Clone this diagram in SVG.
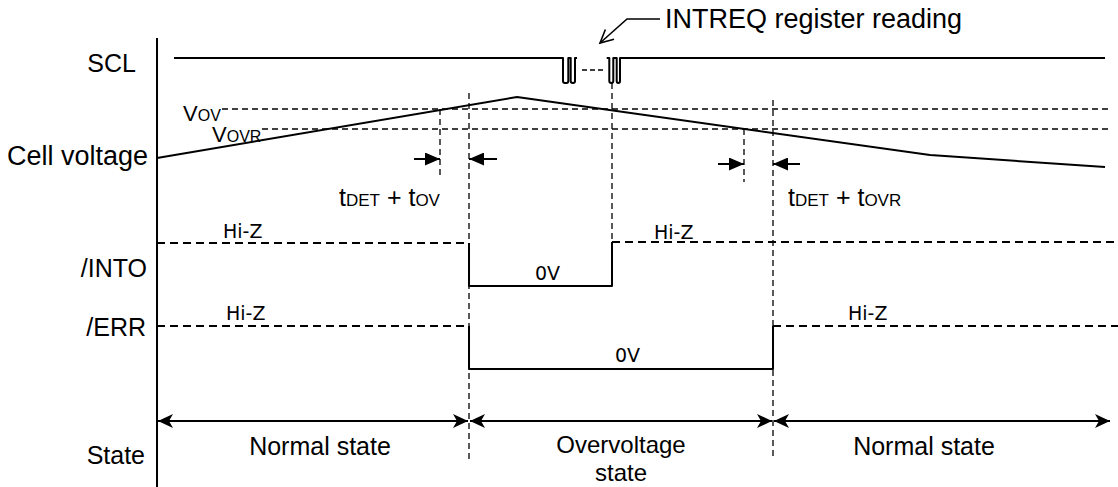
<svg xmlns="http://www.w3.org/2000/svg" width="1118" height="487" viewBox="0 0 1118 487">
<style>
.lbl{font-family:"Liberation Sans",Arial,sans-serif;font-size:25px;fill:#000}
.big{font-size:27px}
.sub{font-size:17px}
.small{font-family:"DejaVu Sans",Verdana,sans-serif;font-size:19px;fill:#000}
.sig{fill:none;stroke:#000;stroke-width:2;stroke-linejoin:round}
.hiz{fill:none;stroke:#000;stroke-width:1.8;stroke-dasharray:8 5}
.ref{fill:none;stroke:#000;stroke-width:1.4;stroke-dasharray:6 4}
.vd{fill:none;stroke:#000;stroke-width:1.3;stroke-dasharray:6 4}
.ax{fill:none;stroke:#000;stroke-width:2}
</style>
<defs>
<marker id="tri" markerUnits="userSpaceOnUse" markerWidth="15" markerHeight="13" viewBox="0 0 15 13" refX="15" refY="6.5" orient="auto"><path d="M0,0 L15,6.5 L0,13 Z" fill="#000"/></marker>
<marker id="stealth" markerUnits="userSpaceOnUse" markerWidth="16" markerHeight="16" viewBox="0 0 16 16" refX="15" refY="8" orient="auto-start-reverse"><path d="M0,1 L15,8 L0,15 L4,8 Z" fill="#000"/></marker>
<marker id="open" markerUnits="userSpaceOnUse" markerWidth="16" markerHeight="16" viewBox="0 0 16 16" refX="14" refY="8" orient="auto"><path d="M1,1.5 L14,8 L1,14.5" fill="none" stroke="#000" stroke-width="1.6"/></marker>
</defs>

<g id="labels">
<text class="lbl" x="136" y="72" text-anchor="end">SCL</text>
<text class="lbl big" x="148" y="165" text-anchor="end">Cell voltage</text>
<text class="lbl" x="147" y="277" text-anchor="end">/INTO</text>
<text class="lbl" x="146" y="336" text-anchor="end">/ERR</text>
<text class="lbl" x="145" y="464" text-anchor="end">State</text>
</g>

<g id="axis">
<line class="ax" x1="157" y1="38" x2="157" y2="487"/>
</g>

<g id="scl">
<path class="sig" d="M174,58 H563 V81 Q563,83 565,83 H566.5 Q568.3,83 568.3,81 V58 H570.7 V81 Q570.7,83 572.7,83 H573 Q575,83 575,81 V58 H577"/>
<line x1="582" y1="70" x2="604" y2="70" stroke="#000" stroke-width="1.6" stroke-dasharray="5 3"/>
<path class="sig" d="M606.7,58 H609.3 V81 Q609.3,83 611.3,83 Q613.3,83 613.3,81 V58 H616.7 V81 Q616.7,83 618.4,83 Q620,83 620,81 V58 H1105"/>
</g>

<g id="intreq-note">
<polyline points="660,19 627,19 600,43" fill="none" stroke="#000" stroke-width="1.6" marker-end="url(#open)"/>
<text class="lbl big" x="665" y="28">INTREQ register reading</text>
</g>

<g id="cell-voltage">
<line class="ref" x1="222" y1="109" x2="1108" y2="109"/>
<line class="ref" x1="262" y1="129" x2="1108" y2="129"/>
<text class="lbl" x="183" y="121" style="font-size:22px">V<tspan style="font-size:16px">OV</tspan></text>
<text class="lbl" x="212" y="142" style="font-size:22px">V<tspan style="font-size:16px">OVR</tspan></text>
<polyline class="sig" points="157,158 517,97 930,155 1105,167"/>
</g>

<g id="connectors">
<line class="vd" x1="440" y1="109" x2="440" y2="176"/>
<line class="vd" x1="469" y1="93" x2="469" y2="460"/>
<line class="vd" x1="612" y1="83" x2="612" y2="242"/>
<line class="vd" x1="744" y1="129" x2="744" y2="182"/>
<line class="vd" x1="773" y1="100" x2="773" y2="460"/>
<line x1="414" y1="159" x2="440" y2="159" stroke="#000" stroke-width="2" marker-end="url(#tri)"/>
<line x1="497" y1="159" x2="469" y2="159" stroke="#000" stroke-width="2" marker-end="url(#tri)"/>
<line x1="718" y1="164" x2="744" y2="164" stroke="#000" stroke-width="2" marker-end="url(#tri)"/>
<line x1="800" y1="164" x2="773" y2="164" stroke="#000" stroke-width="2" marker-end="url(#tri)"/>
<line x1="158" y1="421" x2="468" y2="421" stroke="#000" stroke-width="2" marker-start="url(#stealth)" marker-end="url(#stealth)"/>
<line x1="470" y1="421" x2="772" y2="421" stroke="#000" stroke-width="2" marker-start="url(#stealth)" marker-end="url(#stealth)"/>
<line x1="774" y1="421" x2="1110" y2="421" stroke="#000" stroke-width="2" marker-start="url(#stealth)" marker-end="url(#stealth)"/>
</g>

<g id="timing-labels">
<text class="lbl" x="339" y="206">t<tspan class="sub">DET</tspan> + t<tspan class="sub">OV</tspan></text>
<text class="lbl" x="788" y="206">t<tspan class="sub">DET</tspan> + t<tspan class="sub">OVR</tspan></text>
</g>

<g id="into">
<line class="hiz" x1="157" y1="243" x2="469" y2="243"/>
<path class="sig" d="M469,243 V286 H612 V242"/>
<line class="hiz" x1="612" y1="242" x2="1118" y2="242"/>
<text class="small" x="223" y="238">Hi-Z</text>
<text class="small" x="654" y="239">Hi-Z</text>
<text class="small" x="535" y="280">0V</text>
</g>

<g id="err">
<line class="hiz" x1="157" y1="326" x2="469" y2="326"/>
<path class="sig" d="M469,326 V369 H773 V326"/>
<line class="hiz" x1="773" y1="326" x2="1118" y2="326"/>
<text class="small" x="226" y="320">Hi-Z</text>
<text class="small" x="848" y="320">Hi-Z</text>
<text class="small" x="615" y="362">0V</text>
</g>

<g id="states">
<text class="lbl" x="320" y="455" text-anchor="middle">Normal state</text>
<text class="lbl" x="621" y="453" text-anchor="middle" style="font-size:24px">Overvoltage</text>
<text class="lbl" x="621" y="481" text-anchor="middle" style="font-size:24px">state</text>
<text class="lbl" x="924" y="455" text-anchor="middle">Normal state</text>
</g>
</svg>
